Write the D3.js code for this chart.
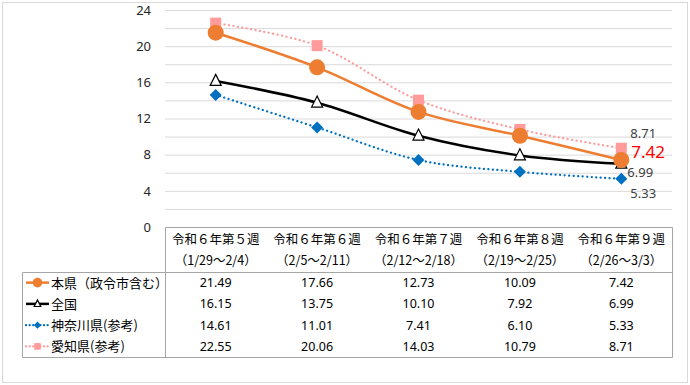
<!DOCTYPE html>
<html><head><meta charset="utf-8">
<script src="https://cdn.jsdelivr.net/npm/d3@7"></script>
<style>
html,body{margin:0;padding:0;background:#fff;}
svg{display:block;font-family:"Noto Sans CJK JP","Noto Sans",sans-serif;}
</style></head>
<body><svg id="c" width="690" height="385"></svg>
<script>
const weeks = ["令和６年第５週","令和６年第６週","令和６年第７週","令和６年第８週","令和６年第９週"];
const ranges = ["（1/29～2/4）","（2/5～2/11）","（2/12～2/18）","（2/19～2/25）","（2/26～3/3）"];
const seriesNames = ["本県（政令市含む）","全国","神奈川県(参考)","愛知県(参考)"];
const honken = [21.49,17.66,12.73,10.09,7.42];
const zenkoku = [16.15,13.75,10.10,7.92,6.99];
const kanagawa = [14.61,11.01,7.41,6.10,5.33];
const aichi = [22.55,20.06,14.03,10.79,8.71];
const yTicks = [0,4,8,12,16,20,24];

const series = [
  {name:seriesNames[0], values:honken, color:"#ED7D31", width:2.5, dash:null, marker:"circle"},
  {name:seriesNames[1], values:zenkoku, color:"#000000", width:2.5, dash:null, marker:"triangle"},
  {name:seriesNames[2], values:kanagawa, color:"#0070C0", width:2.25, dash:"0.1 4.4", marker:"diamond"},
  {name:seriesNames[3], values:aichi, color:"#FF9B9B", width:2.25, dash:"0.1 4.4", marker:"square"}
];

const svg = d3.select("#c");
const fmt = d3.format(".2f");

svg.append("rect").attr("x",2.5).attr("y",2.5).attr("width",685).attr("height",380)
  .attr("fill","#fff").attr("stroke","#d9d9d9").attr("stroke-width",1);

const x0 = 165, x1 = 672;
const x = d3.scaleBand().domain(weeks).range([x0,x1]);
const cx = i => x(weeks[i]) + x.bandwidth()/2;
const y = d3.scaleLinear().domain([0,24]).range([227,10]);

const grid = d3.range(2,25,2);
svg.append("g").selectAll("line").data(grid).join("line")
  .attr("x1",x0).attr("x2",x1).attr("y1",d=>y(d)+0.5).attr("y2",d=>y(d)+0.5)
  .attr("stroke","#d9d9d9").attr("stroke-width",1);

const yAxis = d3.axisLeft(y).tickValues(yTicks).tickSize(0).tickPadding(0).tickFormat(d3.format("d"));
const ga = svg.append("g").attr("transform","translate(151,0)").call(yAxis);
ga.select(".domain").remove();
ga.selectAll("text").attr("font-size",13).attr("fill","#262626").attr("font-family","'Noto Sans','DejaVu Sans',sans-serif");

const line = d3.line().x((d,i)=>cx(i)).y(d=>y(d)).curve(d3.curveCatmullRom.alpha(0.5));
const order = [3,2,1,0];
order.forEach(k=>{
  const s = series[k];
  svg.append("path").datum(s.values).attr("d",line).attr("fill","none")
    .attr("stroke",s.color).attr("stroke-width",s.width)
    .attr("stroke-dasharray",s.dash).attr("stroke-linecap",s.dash?"round":"butt");
});

function drawMarker(g, type, px, py, scale){
  scale = scale||1;
  if(type==="circle"){
    g.append("circle").attr("cx",px).attr("cy",py).attr("r",8*scale).attr("fill","#ED7D31");
  } else if(type==="triangle"){
    const h=11*scale, w=11*scale;
    g.append("path").attr("d",`M${px},${py-h*0.6}L${px+w/2},${py+h*0.4}L${px-w/2},${py+h*0.4}Z`)
      .attr("fill","#fff").attr("stroke","#000").attr("stroke-width",1.2);
  } else if(type==="diamond"){
    const r=6*scale;
    g.append("path").attr("d",`M${px},${py-r}L${px+r},${py}L${px},${py+r}L${px-r},${py}Z`).attr("fill","#0070C0");
  } else if(type==="square"){
    const a=11*scale;
    g.append("rect").attr("x",px-a/2).attr("y",py-a/2).attr("width",a).attr("height",a).attr("fill","#FF9B9B");
  }
}
const mg = svg.append("g");
order.forEach(k=>{
  const s = series[k];
  s.values.forEach((v,i)=>drawMarker(mg, s.marker, cx(i), y(v)));
});

const li = 4;
const lab = svg.append("g").attr("font-family","'Noto Sans','DejaVu Sans',sans-serif");
lab.append("text").attr("x",cx(li)+9).attr("y",y(aichi[li])-10.5).attr("font-size",13).attr("fill","#404040").text(fmt(aichi[li]));
lab.append("text").attr("x",cx(li)+10).attr("y",y(honken[li])-2).attr("font-size",17).attr("fill","#FF0000").text(fmt(honken[li]));
lab.append("text").attr("x",cx(li)+6).attr("y",y(zenkoku[li])+13.5).attr("font-size",13).attr("fill","#404040").text(fmt(zenkoku[li]));
lab.append("text").attr("x",cx(li)+9).attr("y",y(kanagawa[li])+19.5).attr("font-size",13).attr("fill","#404040").text(fmt(kanagawa[li]));

const tTop = 227, hBot = 272, tBot = 357, lLeft = 22;
const tg = svg.append("g");
const border = "#a6a6a6";
tg.append("path").attr("d",`M${x0+0.5},${tBot}V${tTop+0.5}H${x1+0.5}V${tBot+0.5}H${lLeft+0.5}V${hBot+0.5}H${x1}`)
  .attr("fill","none").attr("stroke",border).attr("stroke-width",1);
tg.selectAll("text.w").data(weeks).join("text").attr("class","w")
  .attr("x",d=>x(d)+x.bandwidth()/2).attr("y",244).attr("text-anchor","middle")
  .attr("font-size",12.5).attr("fill","#000").text(d=>d);
tg.selectAll("text.r").data(ranges).join("text").attr("class","r")
  .attr("x",(d,i)=>cx(i)).attr("y",265).attr("text-anchor","middle")
  .attr("font-size",12.5).attr("fill","#000").text(d=>d);

const rowH = (tBot-hBot)/4;
series.forEach((s,k)=>{
  const ry = hBot + rowH*k + rowH/2;
  s.values.forEach((v,i)=>{
    tg.append("text").attr("x",cx(i)).attr("y",ry+4.5).attr("text-anchor","middle")
      .attr("font-size",12.5).attr("fill","#000").attr("font-family","'Noto Sans','DejaVu Sans',sans-serif").text(fmt(v));
  });
  tg.append("line").attr("x1",26).attr("x2",49).attr("y1",ry).attr("y2",ry)
    .attr("stroke",s.color).attr("stroke-width",s.width)
    .attr("stroke-dasharray",s.dash?"0.1 3.5":null).attr("stroke-linecap",s.dash?"round":"butt");
  drawMarker(tg, s.marker, 37.5, ry, 0.6);
  tg.append("text").attr("x",51).attr("y",ry+5).attr("font-size",13).attr("fill","#000").text(s.name);
});
</script></body></html>
